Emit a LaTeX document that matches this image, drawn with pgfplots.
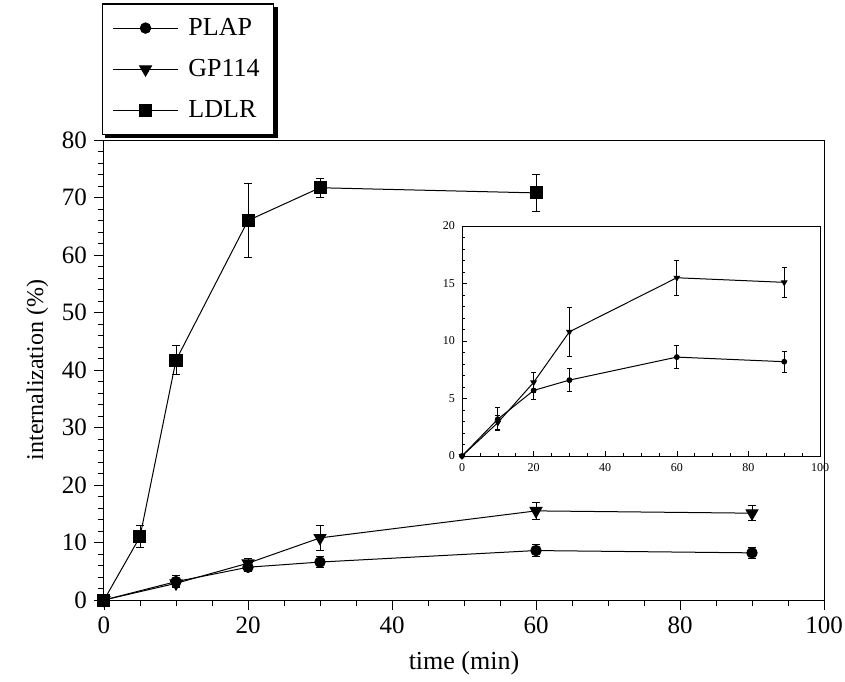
\documentclass[border=0pt]{standalone}
\usepackage{fontspec}
\setmainfont{Liberation Serif}
\usepackage{pgfplots}
\pgfplotsset{compat=1.18}

\pgfplotsset{
  ser/.style={black, line width=0.5pt, mark options={solid, fill=black},
    error bars/y dir=both, error bars/y explicit,
    error bars/error bar style={line width=0.4pt},
    error bars/error mark options={rotate=90, mark size=2pt, line width=0.4pt, black}},
}

\begin{document}
\begin{tikzpicture}
\path[use as bounding box] (0pt,0pt) rectangle (422.5pt,340.5pt);

% main panel
\begin{axis}[
  at={(52pt,40.5pt)}, anchor=south west,
  scale only axis, width=360pt, height=230pt,
  xmin=0, xmax=100, ymin=0, ymax=80,
  xtick={0,20,...,100}, ytick={0,10,...,80},
  minor x tick num=3, minor y tick num=4,
  tick align=outside, tick pos=left,
  major tick length=5pt, minor tick length=3pt,
  axis line style={line width=0.5pt},
  every tick/.style={black, line width=0.4pt},
  /pgf/number format/assume math mode=true,
  tick label style={font=\fontsize{12.5}{15}\selectfont},
  xlabel={time (min)}, ylabel={internalization (\%)},
  xlabel style={font=\fontsize{13}{15}\selectfont, yshift=-2pt},
  ylabel style={font=\fontsize{12}{14}\selectfont},
  legend cell align=left,
  legend image code/.code={\draw[mark repeat=2, mark phase=2]
    plot coordinates {(0cm,0cm) (0.57cm,0cm) (1.14cm,0cm)};},
  legend style={name=leg, at={(0,1)}, anchor=south west, xshift=-1pt, yshift=2.5pt,
    draw=black, line width=0.6pt, fill=white,
    font=\fontsize{13}{15}\selectfont, row sep=6.5pt, column sep=3pt,
    inner xsep=5pt, inner ysep=5pt},
]
\addplot+[ser, mark=*, mark size=2.6pt] coordinates {
  (0,0) +- (0,0)
  (10,3.2) +- (0,1.0)
  (20,5.7) +- (0,0.8)
  (30,6.6) +- (0,1.0)
  (60,8.6) +- (0,1.0)
  (90,8.2) +- (0,0.9)
};
\addlegendentry{PLAP}
\addplot+[ser, mark=triangle*, mark size=3.4pt, mark options={rotate=180}] coordinates {
  (0,0) +- (0,0)
  (10,2.9) +- (0,0.6)
  (20,6.4) +- (0,0.9)
  (30,10.8) +- (0,2.1)
  (60,15.5) +- (0,1.5)
  (90,15.1) +- (0,1.3)
};
\addlegendentry{GP114}
\addplot+[ser, mark=square*, mark size=3pt] coordinates {
  (0,0) +- (0,0)
  (5,11.0) +- (0,1.9)
  (10,41.7) +- (0,2.5)
  (20,66.0) +- (0,6.5)
  (30,71.7) +- (0,1.6)
  (60,70.8) +- (0,3.2)
};
\addlegendentry{LDLR}
\end{axis}

% heavy right and bottom edge of the legend frame
\fill[black] ([xshift=1.6pt]leg.south west) rectangle ([xshift=1.6pt,yshift=-1.6pt]leg.south east);
\fill[black] ([yshift=-1.6pt]leg.north east) rectangle ([xshift=1.6pt,yshift=-1.6pt]leg.south east);

% inset
\begin{axis}[
  at={(231pt,112.5pt)}, anchor=south west,
  scale only axis, width=179pt, height=115pt,
  xmin=0, xmax=100, ymin=0, ymax=20,
  xtick={0,20,...,100}, ytick={0,5,...,20},
  minor x tick num=3, minor y tick num=4,
  tick align=inside, tick pos=left,
  major tick length=2.5pt, minor tick length=1.5pt,
  axis line style={line width=0.5pt},
  every tick/.style={black, line width=0.3pt},
  /pgf/number format/assume math mode=true,
  tick label style={font=\fontsize{6}{7}\selectfont},
  axis background/.style={fill=white},
]
\addplot+[ser, mark=*, mark size=1.2pt,
  error bars/error mark options={rotate=90, mark size=1.2pt, line width=0.3pt, black}] coordinates {
  (0,0) +- (0,0)
  (10,3.2) +- (0,1.0)
  (20,5.7) +- (0,0.8)
  (30,6.6) +- (0,1.0)
  (60,8.6) +- (0,1.0)
  (90,8.2) +- (0,0.9)
};
\addplot+[ser, mark=triangle*, mark size=1.5pt, mark options={rotate=180},
  error bars/error mark options={rotate=90, mark size=1.2pt, line width=0.3pt, black}] coordinates {
  (0,0) +- (0,0)
  (10,2.9) +- (0,0.6)
  (20,6.4) +- (0,0.9)
  (30,10.8) +- (0,2.1)
  (60,15.5) +- (0,1.5)
  (90,15.1) +- (0,1.3)
};
\end{axis}
\end{tikzpicture}
\end{document}
